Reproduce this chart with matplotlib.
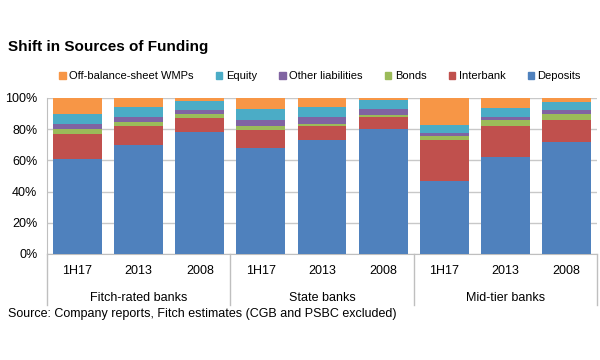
import numpy as np
import matplotlib
matplotlib.use("Agg")
import matplotlib.pyplot as plt
from matplotlib.patches import Patch

plt.rcParams['font.family'] = ['Liberation Sans Narrow', 'Liberation Sans', 'DejaVu Sans']

# Datos (porcentajes)
grupos = ["Fitch-rated banks", "State banks", "Mid-tier banks"]
periodos = ["1H17", "2013", "2008"]
deposits = np.array([61.0, 69.8, 78.4, 67.7, 72.8, 80.1, 46.9, 62.1, 71.9])
interbank = np.array([16.1, 12.0, 8.8, 11.5, 9.0, 7.5, 26.3, 19.7, 14.0])
bonds = np.array([2.8, 2.8, 2.3, 2.8, 1.7, 1.7, 2.6, 4.1, 3.8])
other_liab = np.array([3.6, 3.4, 3.0, 4.1, 4.5, 3.4, 1.5, 2.1, 2.4])
equity = np.array([6.2, 6.2, 5.8, 6.8, 6.4, 5.8, 5.6, 5.6, 5.5])
wmps = np.array([10.3, 5.8, 1.7, 7.1, 5.6, 1.5, 17.1, 6.4, 2.4])

series = [("Deposits", deposits, "#4F81BD"),
          ("Interbank", interbank, "#C0504D"),
          ("Bonds", bonds, "#9BBB59"),
          ("Other liabilities", other_liab, "#8064A2"),
          ("Equity", equity, "#4BACC6"),
          ("Off-balance-sheet WMPs", wmps, "#F79646")]

fig = plt.figure(figsize=(6, 3.6), dpi=100)
ax = fig.add_axes([47/600, 1 - 254/360, 550/600, 156/360])

x = np.arange(len(deposits))
base = np.zeros(len(deposits))
for nombre, vals, color in series:
    ax.bar(x, vals, bottom=base, width=0.8, color=color, zorder=3)
    base = base + vals

ax.set_xlim(-0.5, len(x) - 0.5)
ax.set_ylim(0, 100)
ax.set_yticks(np.arange(0, 101, 20))
ax.set_yticklabels([f"{v}%" for v in range(0, 101, 20)], fontsize=9)
ax.yaxis.grid(True, color="#C8C8C8", linewidth=1, zorder=0)
ax.tick_params(axis="y", length=0, pad=7)
for s in ["top", "right"]:
    ax.spines[s].set_visible(False)
ax.spines["left"].set_color("#BFBFBF")
ax.spines["bottom"].set_color("#BFBFBF")

# etiquetas de dos niveles
ax.set_xticks(x)
ax.set_xticklabels(periodos * len(grupos), fontsize=9)
ax.tick_params(axis="x", length=0, pad=8)
xt = ax.get_xaxis_transform()
for i, g in enumerate(grupos):
    ax.text(i * 3 + 1, -0.28, g, transform=xt, ha="center", va="center", fontsize=9)
for k in range(len(grupos) + 1):
    ax.plot([k * 3 - 0.5, k * 3 - 0.5], [0, -0.33], transform=xt, color="#BFBFBF",
            linewidth=1, clip_on=False)

fig.text(8/600, 1 - 47/360, "Shift in Sources of Funding", fontsize=11,
         fontweight="bold", va="center")

handles = [Patch(color=c, label=n) for n, v, c in series[::-1]]
fig.legend(handles=handles, loc="center", bbox_to_anchor=(320/600, 1 - 76/360), ncol=6,
           frameon=False, fontsize=8, handlelength=0.6, handleheight=0.6,
           handletextpad=0.3, columnspacing=2.0)

fig.text(8/600, 1 - 314/360, "Source: Company reports, Fitch estimates (CGB and PSBC excluded)",
         fontsize=9, va="center")

plt.savefig("out.png", dpi=100)
